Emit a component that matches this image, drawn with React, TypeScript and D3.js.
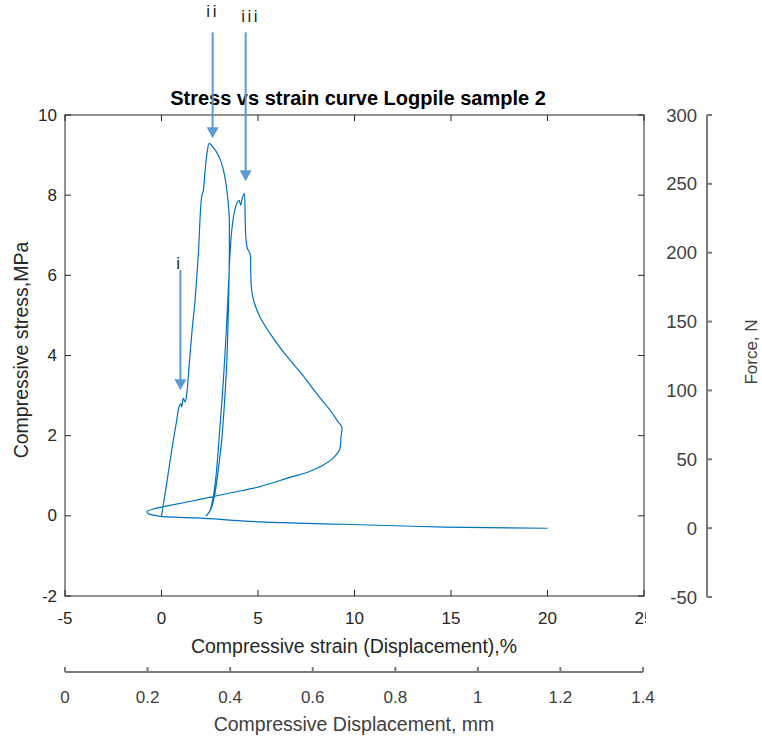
import * as d3 from "d3";

// strain (%) and stress (MPa) in plotting order
const strain = [
  0, 0.27, 0.53, 0.79, 0.91, 1.0, 1.05, 1.13, 1.22, 1.31, 1.44, 1.57, 1.69, 1.74, 1.91, 2.08, 2.17, 2.26, 2.38, 2.47,
  2.68, 2.94, 3.17, 3.34, 3.46, 3.51, 3.51, 3.46, 3.38, 3.25, 3.12, 2.94, 2.77, 2.6, 2.43, 2.31,
  2.48, 2.65, 2.82, 2.99, 3.17, 3.34, 3.46, 3.55, 3.64, 3.76, 3.9, 4.02, 4.1, 4.17, 4.24, 4.29,
  4.33, 4.38, 4.45, 4.59, 4.62, 4.67, 4.79, 5.1, 5.62, 6.31, 7.18, 8.04, 8.73, 9.16, 9.34, 9.3, 9.22,
  8.89, 8.37, 7.54, 6.66, 5.1, 3.55, 1.99, 0.44, -0.34, -0.75, -0.7, -0.34, 0.08, 1.82, 5.1, 9.42, 14.69, 20.0,
];
const stress = [
  0, 0.81, 1.64, 2.39, 2.72, 2.8, 2.72, 2.93, 2.84, 3.05, 3.8, 4.55, 5.13, 5.38, 6.54, 7.96, 8.12, 8.62, 9.12, 9.29,
  9.19, 9.0, 8.7, 8.29, 7.79, 7.46, 6.29, 5.05, 3.8, 2.72, 1.89, 1.14, 0.56, 0.22, 0.06, 0.0,
  0.1, 0.39, 0.97, 1.97, 3.13, 4.46, 5.63, 6.54, 7.12, 7.54, 7.79, 7.87, 7.75, 7.89, 8.0, 8.04,
  7.54, 6.88, 6.67, 6.54, 6.13, 5.63, 5.34, 4.96, 4.55, 4.09, 3.59, 3.05, 2.64, 2.34, 2.22, 1.97, 1.64,
  1.44, 1.26, 1.08, 0.96, 0.73, 0.57, 0.41, 0.26, 0.18, 0.11, 0.06, 0.01, -0.02, -0.05, -0.15, -0.21, -0.28, -0.31,
];

const xTicks = [-5, 0, 5, 10, 15, 20, 25];
const yTicks = [-2, 0, 2, 4, 6, 8, 10];
const forceTicks = [-50, 0, 50, 100, 150, 200, 250, 300];
const dispTicks = [0, 0.2, 0.4, 0.6, 0.8, 1, 1.2, 1.4];

// annotation arrows (data coords)
const arrowLabels = ["i", "ii", "iii"];
const arrowX = [0.98, 2.65, 4.36];
const arrowTipY = [3.13, 9.42, 8.35];
const arrowTailY = [6.13, 12.06, 12.06];

const W = 762;
const H = 742;
const font = "'Liberation Sans', Arial, sans-serif";
const ink = "#262626";
const grey = "#404040";
const arrowBlue = "#5B9BD5";

export default function App() {
  const x = d3.scaleLinear().domain([-5, 25]).range([65, 644]);
  const y = d3.scaleLinear().domain([-2, 10]).range([596, 115]);
  const yForce = d3.scaleLinear().domain([-50, 300]).range([597, 115]);
  const xDisp = d3.scaleLinear().domain([0, 1.4]).range([65, 643]);

  const [x0, x1] = x.range();
  const [y0, y1] = [y(10), y(-2)];
  const tick = 6;

  const line = d3
    .line<number>()
    .x((_, i) => x(strain[i]))
    .y((_, i) => y(stress[i]))
    .curve(d3.curveCatmullRom.alpha(0.5));

  const forceX = 707;
  const dispY = 672;

  return (
    <svg
      width={W}
      height={H}
      style={{ position: "absolute", left: 0, top: 0, background: "#fff" }}
      fontFamily={font}
    >
      <rect width={W} height={H} fill="#fff" />

      {/* box */}
      <rect x={x0} y={y0} width={x1 - x0} height={y1 - y0} fill="none" stroke={ink} strokeWidth={1} />

      {/* x ticks */}
      {xTicks.map(t => (
        <g key={"x" + t}>
          <line x1={x(t)} x2={x(t)} y1={y1} y2={y1 - tick} stroke={ink} />
          <line x1={x(t)} x2={x(t)} y1={y0} y2={y0 + tick} stroke={ink} />
          <text x={x(t)} y={618} textAnchor="middle" dominantBaseline="central" fontSize={17} fill={ink}>
            {t}
          </text>
        </g>
      ))}

      {/* y ticks */}
      {yTicks.map(t => (
        <g key={"y" + t}>
          <line x1={x0} x2={x0 + tick} y1={y(t)} y2={y(t)} stroke={ink} />
          <line x1={x1} x2={x1 - tick} y1={y(t)} y2={y(t)} stroke={ink} />
          <text x={57} y={y(t)} textAnchor="end" dominantBaseline="central" fontSize={17} fill={ink}>
            {t}
          </text>
        </g>
      ))}

      <path d={line(strain) || ""} fill="none" stroke="#0072BD" strokeWidth={1.2} />

      {/* titles */}
      <text x={358} y={105} textAnchor="middle" fontSize={20} fontWeight="bold" fill="#000">
        Stress vs strain curve Logpile sample 2
      </text>
      <text x={354} y={653} textAnchor="middle" fontSize={19.5} fill={ink}>
        Compressive strain (Displacement),%
      </text>
      <text transform="translate(28,350) rotate(-90)" textAnchor="middle" fontSize={19.5} fill={ink}>
        Compressive stress,MPa
      </text>

      {/* arrows */}
      {arrowLabels.map((lab, i) => {
        const ax = x(arrowX[i]);
        const tip = y(arrowTipY[i]);
        const tail = y(arrowTailY[i]);
        const headH = 11;
        const offs = lab === "i" ? [-1, -1] : lab === "ii" ? [0, -15] : [5, -10];
        return (
          <g key={lab}>
            <line x1={ax} x2={ax} y1={tail} y2={tip - headH + 1} stroke={arrowBlue} strokeWidth={2} />
            <path
              d={`M${ax - 6},${tip - headH}L${ax + 6},${tip - headH}L${ax},${tip}Z`}
              fill={arrowBlue}
            />
            <text
              x={ax + offs[0]}
              y={tail + offs[1]}
              textAnchor="middle"
              fontSize={17}
              letterSpacing={2.5}
              fill={ink}
            >
              {lab}
            </text>
          </g>
        );
      })}

      {/* pasted force axis covers the end of the "25" label */}
      <rect x={646} y={600} width={40} height={40} fill="#fff" />

      {/* force axis */}
      <line x1={forceX} x2={forceX} y1={yForce(300)} y2={yForce(-50)} stroke="#7a7a7a" strokeWidth={2} />
      {forceTicks.map(t => (
        <g key={"f" + t}>
          <line x1={forceX} x2={forceX + 5} y1={yForce(t)} y2={yForce(t)} stroke="#7a7a7a" strokeWidth={2} />
          <text x={697} y={yForce(t)} textAnchor="end" dominantBaseline="central" fontSize={18.5} fill={grey}>
            {t}
          </text>
        </g>
      ))}
      <text transform="translate(757,352) rotate(-90)" textAnchor="middle" fontSize={17} fill={grey}>
        Force, N
      </text>

      {/* displacement axis */}
      <line x1={xDisp(0)} x2={xDisp(1.4)} y1={dispY} y2={dispY} stroke="#7a7a7a" strokeWidth={2} />
      {dispTicks.map(t => (
        <g key={"d" + t}>
          <line x1={xDisp(t)} x2={xDisp(t)} y1={dispY} y2={dispY - 5} stroke="#7a7a7a" strokeWidth={2} />
          <text x={xDisp(t)} y={697} textAnchor="middle" dominantBaseline="central" fontSize={17} fill={grey}>
            {t}
          </text>
        </g>
      ))}
      <text x={354} y={731} textAnchor="middle" fontSize={19.5} fill={grey}>
        Compressive Displacement, mm
      </text>
    </svg>
  );
}
